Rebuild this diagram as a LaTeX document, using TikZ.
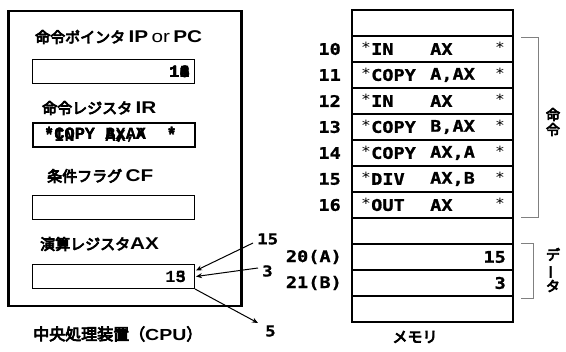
\documentclass[tikz,border=0pt]{standalone}
\usepackage{fontspec}
\usepackage{graphicx}
\usetikzlibrary{arrows.meta}
\newfontfamily\jp{Noto Sans CJK JP}[FakeBold=5]
\newfontfamily\lat{Liberation Sans}[FakeStretch=1.22]
\newfontfamily\cour{Liberation Mono}
\newfontfamily\mmono{DejaVu Sans Mono}[FakeStretch=1.16]
\newfontfamily\mmonob{DejaVu Sans Mono Bold}[FakeStretch=1.16,FakeBold=1]
\begin{document}
\begin{tikzpicture}[x=1pt,y=-1pt,
  ttl/.style={anchor=west, inner sep=0pt, font=\jp\fontsize{15}{15}\selectfont},
  reg/.style={draw, line width=1pt, anchor=north west, minimum width=162pt, minimum height=24pt, inner sep=0pt},
  regval/.style={anchor=east, inner sep=0pt, font=\cour\bfseries\fontsize{17}{17}\selectfont},
  cell/.style={draw, line width=1.4pt, minimum width=161pt, minimum height=26pt, inner sep=0pt},
  mtxt/.style={anchor=west, inner sep=0pt, font=\mmonob\fontsize{16}{16}\selectfont},
  mstar/.style={anchor=west, inner sep=0pt, font=\mmono\fontsize{14}{14}\selectfont},
  addr/.style={anchor=east, inner sep=0pt, font=\mmonob\fontsize{16}{16}\selectfont},
  brk/.style={draw=gray, line width=0.8pt},
  arr/.style={-{Stealth[length=6pt,width=5pt]}, line width=1pt}
]
\useasboundingbox (0,0) rectangle (566,352);
% CPU
\node[draw, line width=2.5pt, anchor=north west, minimum width=233pt, minimum height=295pt, inner sep=0pt] (cpu) at (7,10) {};
\node[ttl] (tpc) at (35,37) {命令ポインタ {\lat\bfseries\fontsize{17}{17}\selectfont IP} {\lat\fontsize{17}{17}\selectfont or} {\lat\bfseries\fontsize{17}{17}\selectfont PC}};
\node[reg] (pc) at (32,59) {};
\foreach \v in {10,11,12,13,14,15,16}{\node[regval] (pcv\v) at (190,72) {\v};}
\node[ttl] (tir) at (42,108) {命令レジスタ {\lat\bfseries\fontsize{17}{17}\selectfont IR}};
\node[reg, line width=2pt] (ir) at (32,122) {};
\foreach \k/\s in {a/{*IN~~~AX~~~~*}, b/{*COPY~A,AX~~*}, c/{*COPY~B,AX~~*}, d/{*COPY~AX,A~~*}}{\node[regval, anchor=west] (irv\k) at (44,135) {\s};}
\node[ttl] (tcf) at (47,176) {条件フラグ {\lat\bfseries\fontsize{17}{17}\selectfont CF}};
\node[reg] (cf) at (32,195) {};
\node[ttl] (tax) at (40,244) {演算レジスタ{\lat\bfseries\fontsize{17}{17}\selectfont AX}};
\node[reg] (ax) at (32,264) {};
\node[regval] (axv1) at (186,277) {15};
\node[regval] (axv2) at (186,277) {3};
\node[ttl, font=\jp\fontsize{16}{16}\selectfont] (tcpu) at (33,334) {中央処理装置（{\lat\bfseries CPU}）};
% arrows
\node[anchor=west, inner sep=0pt, font=\mmonob\fontsize{15}{15}\selectfont] (n15) at (257,239) {15};
\node[anchor=west, inner sep=0pt, font=\mmonob\fontsize{15}{15}\selectfont] (n3) at (262,271) {3};
\node[anchor=west, inner sep=0pt, font=\mmonob\fontsize{15}{15}\selectfont] (n5) at (265,331) {5};
\coordinate (s15) at (253,243);
\coordinate (s3) at (258,268);
\coordinate (e5) at (258,323);
\draw[arr] (s15) -- ([xshift=1pt,yshift=6pt]ax.east);
\draw[arr] (s3) -- ([xshift=1pt]ax.east);
\draw[arr] (ax.south east) -- (e5);
% memory
\foreach \i in {0,...,11}{\node[cell] (m\i) at (432.5,{23+26*\i}) {};}
\foreach \i/\a/\o/\g in {1/10/IN/AX, 2/11/COPY/{A,AX}, 3/12/IN/AX, 4/13/COPY/{B,AX}, 5/14/COPY/{AX,A}, 6/15/DIV/{AX,B}, 7/16/OUT/AX}{
  \node[addr] (ad\i) at (341,{23+26*\i}) {\a};
  \node[mstar] (sl\i) at (361,{21+26*\i}) {*};
  \node[mtxt] (op\i) at (371,{23+26*\i}) {\o};
  \node[mtxt] (ag\i) at (430,{23+26*\i}) {\g};
  \node[mstar] (sr\i) at (495,{21+26*\i}) {*};
}
\node[addr] (ad9) at (342,257) {20(A)};
\node[addr] (ad10) at (342,283) {21(B)};
\node[mtxt, anchor=east] (v9) at (506,257) {15};
\node[mtxt, anchor=east] (v10) at (506,283) {3};
\draw[brk] (521,37) -| (538,217) -- (521,217);
\draw[brk] (521,243) -| (533,298) -- (521,298);
\node[align=center, inner sep=0pt, font=\jp\fontsize{14}{15}\selectfont] (tmei) at (553,122) {命\\令};
\node[align=center, inner sep=0pt, font=\jp\fontsize{14}{15}\selectfont] (tdata) at (553,270) {デ\\\rotatebox[origin=c]{90}{ー}\\タ};
\node[inner sep=0pt, font=\jp\fontsize{15}{15}\selectfont] (tmem) at (415,337) {メモリ};
\end{tikzpicture}
\end{document}
